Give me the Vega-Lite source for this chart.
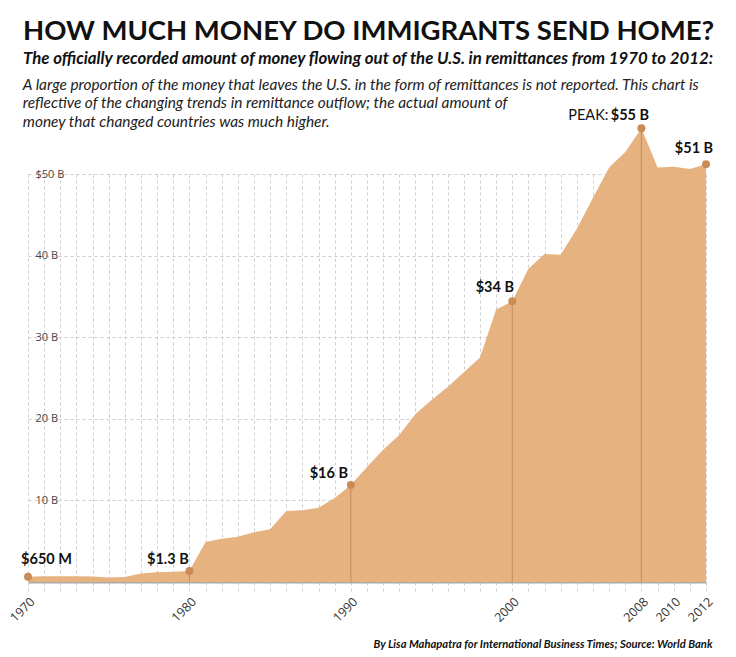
{
  "$schema": "https://vega.github.io/schema/vega-lite/v6.json",
  "width": 678,
  "height": 408,
  "autosize": {"type": "none"},
  "padding": {"left": 28, "top": 174, "right": 30, "bottom": 75},
  "background": "white",
  "title": {
    "text": "HOW MUCH MONEY DO IMMIGRANTS SEND HOME?",
    "subtitle": "The officially recorded amount of money flowing out of the U.S. in remittances from 1970 to 2012:",
    "anchor": "start",
    "frame": "group",
    "dx": -5,
    "offset": 10,
    "font": "Lato",
    "fontSize": 27.5,
    "fontWeight": "bold",
    "color": "#111111",
    "subtitleFont": "Lato",
    "subtitleFontSize": 16.8,
    "subtitleFontStyle": "italic",
    "subtitleFontWeight": "bold",
    "subtitleColor": "#111111",
    "subtitlePadding": 6
  },
  "config": {"view": {"stroke": null}},
  "data": {
    "values": [
      {"year": 1970, "value": 0.65},
      {"year": 1971, "value": 0.7},
      {"year": 1972, "value": 0.7},
      {"year": 1973, "value": 0.72},
      {"year": 1974, "value": 0.68},
      {"year": 1975, "value": 0.55},
      {"year": 1976, "value": 0.6},
      {"year": 1977, "value": 1.05},
      {"year": 1978, "value": 1.2},
      {"year": 1979, "value": 1.25},
      {"year": 1980, "value": 1.35},
      {"year": 1981, "value": 4.9},
      {"year": 1982, "value": 5.3},
      {"year": 1983, "value": 5.55},
      {"year": 1984, "value": 6.1},
      {"year": 1985, "value": 6.45},
      {"year": 1986, "value": 8.7},
      {"year": 1987, "value": 8.8},
      {"year": 1988, "value": 9.1},
      {"year": 1989, "value": 10.3},
      {"year": 1990, "value": 11.9},
      {"year": 1991, "value": 14.1},
      {"year": 1992, "value": 16.2},
      {"year": 1993, "value": 18.0},
      {"year": 1994, "value": 20.6},
      {"year": 1995, "value": 22.3},
      {"year": 1996, "value": 23.9},
      {"year": 1997, "value": 25.7},
      {"year": 1998, "value": 27.5},
      {"year": 1999, "value": 33.4},
      {"year": 2000, "value": 34.4},
      {"year": 2001, "value": 38.4},
      {"year": 2002, "value": 40.2},
      {"year": 2003, "value": 40.1},
      {"year": 2004, "value": 43.3},
      {"year": 2005, "value": 47.1},
      {"year": 2006, "value": 50.8},
      {"year": 2007, "value": 52.7},
      {"year": 2008, "value": 55.6},
      {"year": 2009, "value": 50.8},
      {"year": 2010, "value": 50.9},
      {"year": 2011, "value": 50.6},
      {"year": 2012, "value": 51.2}
    ]
  },
  "layer": [
    {
      "mark": {"type": "area", "color": "#E6B27F", "opacity": 1},
      "encoding": {
        "x": {
          "field": "year",
          "type": "quantitative",
          "scale": {"domain": [1970, 2012], "nice": false, "zero": false},
          "axis": {
            "tickCount": 42,
            "tickMinStep": 1,
            "format": "d",
            "labelExpr": "indexof([1970,1980,1990,2000,2008,2010,2012], datum.value) >= 0 ? datum.label : ''",
            "labelOverlap": false,
            "labelFlush": false,
            "labelAngle": -45,
            "labelAlign": "right",
            "labelBaseline": "top",
            "labelFont": "Open Sans",
            "labelFontSize": 12.5,
            "labelColor": "#333333",
            "labelPadding": 1,
            "grid": true,
            "gridDash": [3, 3],
            "gridColor": "#cccccc",
            "gridWidth": 1,
            "ticks": true,
            "tickSize": 12,
            "tickDash": [3, 3],
            "tickColor": "#cccccc",
            "domain": true,
            "domainColor": "#aaaaaa",
            "domainWidth": 2,
            "title": "By Lisa Mahapatra for International Business Times; Source: World Bank",
            "titleFont": "Lato",
            "titleFontSize": 11.2,
            "titleFontStyle": "italic",
            "titleFontWeight": "bold",
            "titleColor": "#111111",
            "titleAlign": "right",
            "titleBaseline": "alphabetic",
            "titleX": 684,
            "titleY": 65
          }
        },
        "y": {
          "field": "value",
          "type": "quantitative",
          "scale": {"domain": [0, 50], "nice": false},
          "axis": {
            "values": [10, 20, 30, 40, 50],
            "labelExpr": "datum.value == 50 ? '$50 B' : datum.value + ' B'",
            "domain": false,
            "ticks": false,
            "labelAlign": "left",
            "labelBaseline": "middle",
            "labelPadding": -7,
            "labelFont": "Open Sans",
            "labelFontSize": 11,
            "labelColor": "#444444",
            "grid": true,
            "gridDash": [3, 3],
            "gridColor": "#cccccc",
            "title": null
          }
        }
      }
    },
    {
      "transform": [{"filter": "indexof([1980,1990,2000,2008], datum.year) >= 0"}],
      "mark": {"type": "rule", "color": "#C98C59", "strokeWidth": 1},
      "encoding": {
        "x": {"field": "year", "type": "quantitative"},
        "y": {"field": "value", "type": "quantitative"},
        "y2": {"datum": 0}
      }
    },
    {
      "transform": [{"filter": "indexof([1970,1980,1990,2000,2008,2012], datum.year) >= 0"}],
      "mark": {"type": "circle", "color": "#C98C59", "size": 64, "opacity": 1},
      "encoding": {
        "x": {"field": "year", "type": "quantitative"},
        "y": {"field": "value", "type": "quantitative"}
      }
    },
    {
      "transform": [{"filter": "datum.year == 1970"}],
      "mark": {"type": "text", "text": "$650 M", "align": "center", "baseline": "alphabetic", "dx": 18.5, "dy": -12.5, "font": "Lato", "fontSize": 14.5, "fontWeight": "bold", "color": "#111111"},
      "encoding": {"x": {"field": "year", "type": "quantitative"}, "y": {"field": "value", "type": "quantitative"}}
    },
    {
      "transform": [{"filter": "datum.year == 1980"}],
      "mark": {"type": "text", "text": "$1.3 B", "align": "center", "baseline": "alphabetic", "dx": -21.5, "dy": -7, "font": "Lato", "fontSize": 14.5, "fontWeight": "bold", "color": "#111111"},
      "encoding": {"x": {"field": "year", "type": "quantitative"}, "y": {"field": "value", "type": "quantitative"}}
    },
    {
      "transform": [{"filter": "datum.year == 1990"}],
      "mark": {"type": "text", "text": "$16 B", "align": "center", "baseline": "alphabetic", "dx": -22, "dy": -7, "font": "Lato", "fontSize": 14.5, "fontWeight": "bold", "color": "#111111"},
      "encoding": {"x": {"field": "year", "type": "quantitative"}, "y": {"field": "value", "type": "quantitative"}}
    },
    {
      "transform": [{"filter": "datum.year == 2000"}],
      "mark": {"type": "text", "text": "$34 B", "align": "center", "baseline": "alphabetic", "dx": -17.5, "dy": -9, "font": "Lato", "fontSize": 14.5, "fontWeight": "bold", "color": "#111111"},
      "encoding": {"x": {"field": "year", "type": "quantitative"}, "y": {"field": "value", "type": "quantitative"}}
    },
    {
      "transform": [{"filter": "datum.year == 2008"}],
      "mark": {"type": "text", "text": "$55 B", "align": "center", "baseline": "alphabetic", "dx": -11.5, "dy": -8.3, "font": "Lato", "fontSize": 14.5, "fontWeight": "bold", "color": "#111111"},
      "encoding": {"x": {"field": "year", "type": "quantitative"}, "y": {"field": "value", "type": "quantitative"}}
    },
    {
      "transform": [{"filter": "datum.year == 2008"}],
      "mark": {"type": "text", "text": "PEAK:", "align": "right", "baseline": "alphabetic", "dx": -33, "dy": -8.3, "font": "Lato", "fontSize": 14.5, "fontWeight": "normal", "color": "#111111"},
      "encoding": {"x": {"field": "year", "type": "quantitative"}, "y": {"field": "value", "type": "quantitative"}}
    },
    {
      "transform": [{"filter": "datum.year == 2012"}],
      "mark": {"type": "text", "text": "$51 B", "align": "center", "baseline": "alphabetic", "dx": -12, "dy": -11, "font": "Lato", "fontSize": 14.5, "fontWeight": "bold", "color": "#111111"},
      "encoding": {"x": {"field": "year", "type": "quantitative"}, "y": {"field": "value", "type": "quantitative"}}
    },
    {
      "data": {"values": [{"note": "A large proportion of the money that leaves the U.S. in the form of remittances is not reported. This chart is\nreflective of the changing trends in remittance outflow; the actual amount of\nmoney that changed countries was much higher."}]},
      "mark": {"type": "text", "align": "left", "baseline": "alphabetic", "lineBreak": "\n", "lineHeight": 18.5, "font": "Lato", "fontSize": 15.4, "fontStyle": "italic", "color": "#222222"},
      "encoding": {
        "text": {"field": "note", "type": "nominal"},
        "x": {"datum": 1969.68, "type": "quantitative"},
        "y": {"datum": 60.3, "type": "quantitative"}
      }
    }
  ]
}
